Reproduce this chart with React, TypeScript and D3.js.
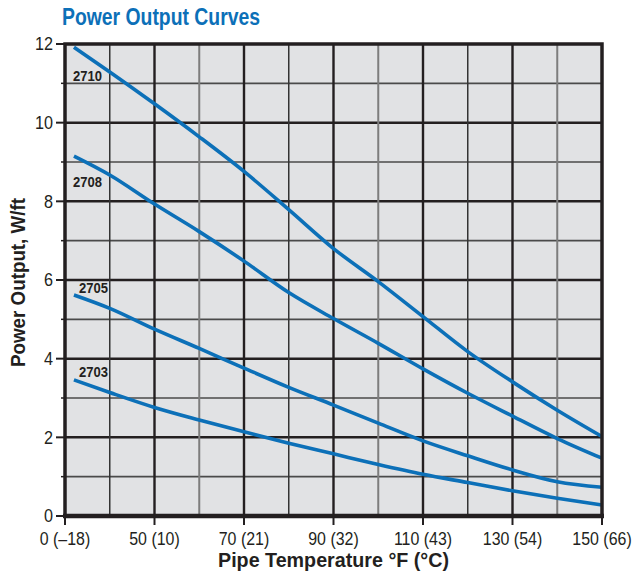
import React from "react";
import * as d3 from "d3";

// Pipe temperature (°F) at which readings were taken
const temps = [5, 25, 50, 60, 70, 80, 90, 100, 110, 120, 130, 140, 150];
const s2710 = [11.92, 11.29, 10.48, 9.64, 8.76, 7.79, 6.8, 5.96, 5.07, 4.18, 3.41, 2.69, 2.02];
const s2708 = [9.15, 8.67, 7.93, 7.23, 6.48, 5.68, 5.02, 4.39, 3.74, 3.12, 2.54, 1.97, 1.47];
const s2705 = [5.62, 5.28, 4.75, 4.26, 3.76, 3.27, 2.82, 2.36, 1.91, 1.53, 1.17, 0.87, 0.73];
const s2703 = [3.46, 3.14, 2.76, 2.44, 2.14, 1.85, 1.58, 1.31, 1.06, 0.85, 0.64, 0.45, 0.28];
const seriesNames = ["2710", "2708", "2705", "2703"];
const seriesValues = [s2710, s2708, s2705, s2703];

const xTickValues = [0, 50, 70, 90, 110, 130, 150];
const xTickLabels = ["0 (–18)", "50 (10)", "70 (21)", "90 (32)", "110 (43)", "130 (54)", "150 (66)"];
const xGridValues = [25, 50, 60, 70, 80, 90, 100, 110, 120, 130, 140];
const yTickValues = [0, 2, 4, 6, 8, 10, 12];

const FONT = "'Liberation Sans', Arial, sans-serif";
const BLUE = "#0c70b8";
const INK = "#231f20";

export default function App() {
  const W = 636, H = 578;
  const left = 65, right = 602, top = 44, bottom = 516;
  const x = d3.scaleLinear().domain([0, 50, 150]).range([left, left + (right - left) / 6, right]);
  const y = d3.scaleLinear().domain([0, 12]).range([bottom, top]);
  const line = d3
    .line<number>()
    .x((_, i) => x(temps[i]))
    .y((d) => y(d))
    .curve(d3.curveMonotoneX);

  const yGrid = d3.range(1, 12);

  // label placement offsets relative to each curve's first point
  const labelDx = [-1, -1, 5, 5];
  const labelDy = [34, 31, -2, -3];

  return (
    <svg width={W} height={H} style={{ position: "absolute", left: 0, top: 0 }} fontFamily={FONT}>
      <rect x={0} y={0} width={W} height={H} fill="#fff" />
      <text x={62} y={25} fill={BLUE} fontWeight="bold" fontSize={23.5} textLength={198} lengthAdjust="spacingAndGlyphs">
        Power Output Curves
      </text>
      <rect x={left} y={top} width={right - left} height={bottom - top} fill="#e1e2e4" />
      {yGrid.map((v) => (
        <line
          key={"h" + v}
          x1={left}
          x2={right}
          y1={y(v)}
          y2={y(v)}
          stroke={v % 2 === 0 ? INK : "#4a4a4a"}
          strokeWidth={v % 2 === 0 ? 2.5 : 1.6}
        />
      ))}
      {xGridValues.map((v, i) => {
        const col = i + 1;
        const major = col % 2 === 0;
        const grey = col % 4 === 3;
        return (
          <line
            key={"v" + v}
            x1={x(v)}
            x2={x(v)}
            y1={top}
            y2={bottom}
            stroke={major ? INK : grey ? "#7d7d7d" : "#333"}
            strokeWidth={major ? 2.4 : grey ? 2 : 1.5}
          />
        );
      })}
      {seriesValues.map((vals, k) => (
        <path key={seriesNames[k]} d={line(vals) || ""} fill="none" stroke={BLUE} strokeWidth={3.6} strokeLinecap="butt" />
      ))}
      {seriesNames.map((name, k) => (
        <text
          key={"l" + name}
          x={x(temps[0]) + labelDx[k]}
          y={y(seriesValues[k][0]) + labelDy[k]}
          fill={INK}
          fontWeight="bold"
          fontSize={15.5}
          textLength={29}
          lengthAdjust="spacingAndGlyphs"
        >
          {name}
        </text>
      ))}
      <rect x={left} y={top} width={right - left} height={bottom - top} fill="none" stroke={INK} strokeWidth={3.5} />
      <line x1={left - 2} x2={right + 2} y1={bottom} y2={bottom} stroke={INK} strokeWidth={4.5} />
      {yTickValues.map((v) => (
        <g key={"yt" + v}>
          <line x1={left - 9} x2={left} y1={y(v)} y2={y(v)} stroke={INK} strokeWidth={2} />
          <text
            transform={`translate(${left - 12},${y(v)}) scale(0.9,1)`}
            dy="0.36em"
            textAnchor="end"
            fontSize={18}
            fill={INK}
          >
            {v}
          </text>
        </g>
      ))}
      {d3.range(1, 12, 2).map((v) => (
        <line key={"ym" + v} x1={left - 4} x2={left} y1={y(v)} y2={y(v)} stroke={INK} strokeWidth={1.5} />
      ))}
      {xTickValues.map((v, i) => (
        <g key={"xt" + v}>
          <line x1={x(v)} x2={x(v)} y1={bottom} y2={bottom + 9} stroke={INK} strokeWidth={2} />
          <text
            transform={`translate(${x(v)},545) scale(0.84,1)`}
            textAnchor="middle"
            fontSize={19}
            fill={INK}
          >
            {xTickLabels[i]}
          </text>
        </g>
      ))}
      <text
        x={333.5}
        y={566.5}
        textAnchor="middle"
        fontWeight="bold"
        fontSize={20}
        fill={INK}
        textLength={231}
        lengthAdjust="spacingAndGlyphs"
      >
        Pipe Temperature °F (°C)
      </text>
      <text
        transform={`translate(24.5,282.5) rotate(-90)`}
        textAnchor="middle"
        fontWeight="bold"
        fontSize={20}
        fill={INK}
        textLength={169}
        lengthAdjust="spacingAndGlyphs"
      >
        Power Output, W/ft
      </text>
    </svg>
  );
}
